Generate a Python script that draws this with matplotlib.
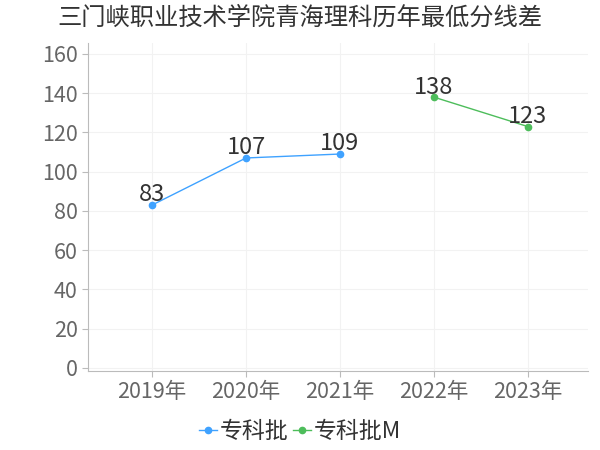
import matplotlib
import numpy as np

matplotlib.use("Agg")
import matplotlib.pyplot as plt

plt.rcParams["font.family"] = ["Noto Sans CJK SC", "DejaVu Sans"]

years = ["2019年", "2020年", "2021年", "2022年", "2023年"]
series_names = ["专科批", "专科批M"]
zhuanke = [83, 107, 109, np.nan, np.nan]
zhuanke_m = [np.nan, np.nan, np.nan, 138, 123]
y_ticks = [0, 20, 40, 60, 80, 100, 120, 140, 160]

colours = ["#3FA2FF", "#4DBD5B"]

figure = plt.figure(figsize=(6, 4.5), dpi=100)
axis = figure.add_axes([0.147, 0.176, 0.833, 0.728])

x = np.arange(len(years))
for values, name, colour in zip([zhuanke, zhuanke_m], series_names, colours):
    values = np.array(values, dtype=float)
    axis.plot(x, values, color=colour, linewidth=1.0, marker="o",
              markersize=4.5, label=name)
    for xi, v in zip(x, values):
        if not np.isnan(v):
            axis.annotate(f"{int(v)}", (xi, v), xytext=(0, -1),
                          textcoords="offset points", ha="center", va="bottom",
                          fontsize=17, color="#333333")

axis.set_xlim(-0.68, 4.64)
axis.set_ylim(-1.5, 165.5)
axis.set_xticks(x, years)
axis.set_yticks(y_ticks)
axis.tick_params(axis="both", labelsize=15.5, colors="#BBBBBB", labelcolor="#666666",
                 length=4, width=0.8)
axis.grid(color="#F2F2F2", linewidth=0.8)
axis.set_axisbelow(True)
axis.spines[["top", "right"]].set_visible(False)
for side in ["left", "bottom"]:
    axis.spines[side].set_color("#BBBBBB")

figure.suptitle("三门峡职业技术学院青海理科历年最低分线差", x=0.5, y=0.99,
                fontsize=17.5, color="#333333")

figure.legend(loc="center", bbox_to_anchor=(0.5, 0.04), ncol=2, frameon=False,
              fontsize=16.5, handlelength=0.8, handletextpad=0.1, columnspacing=0.2,
              labelcolor="#333333")

figure.savefig("out.png", dpi=100, facecolor="white")
